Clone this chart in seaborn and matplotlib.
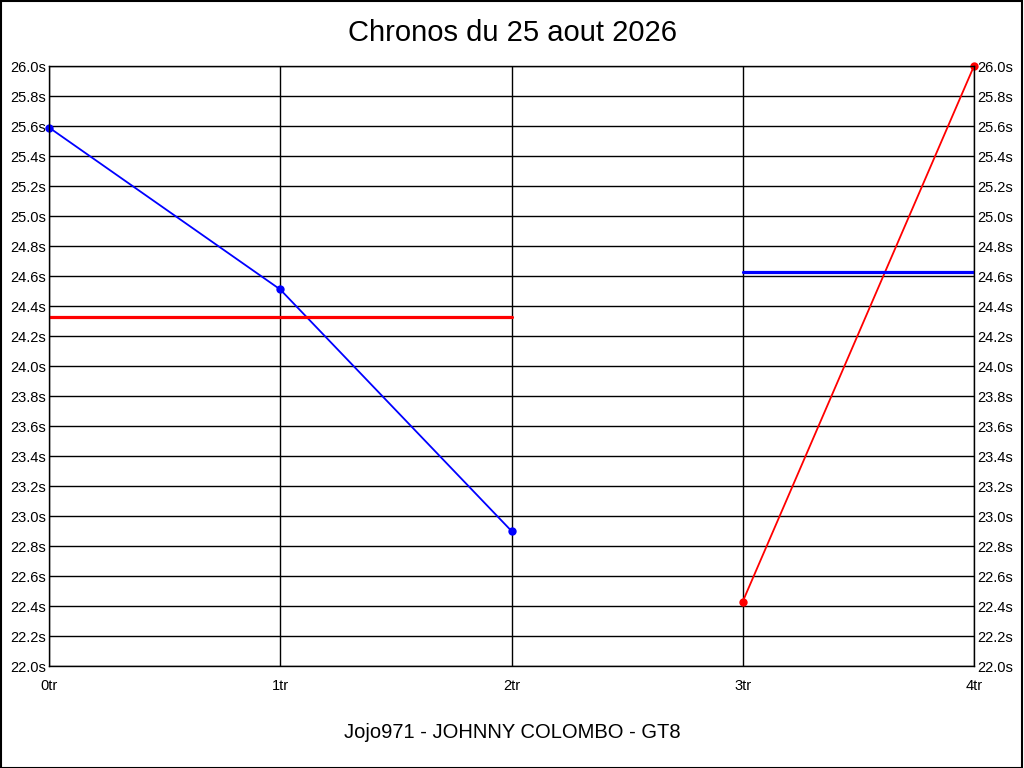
import numpy as np
import pandas as pd
import matplotlib
matplotlib.use("Agg")
import matplotlib.pyplot as plt
import seaborn as sns

# Tours (x) and chrono values (seconds)
tours = [0, 1, 2, 3, 4]
tour_labels = ["0tr", "1tr", "2tr", "3tr", "4tr"]
blue_x = [0, 1, 2]
blue_y = [25.59, 24.51, 22.90]
red_x = [3, 4]
red_y = [22.43, 26.00]
# reference levels (horizontal lines)
red_level_x = [0, 2]
red_level_y = [24.33, 24.33]
blue_level_x = [3, 4]
blue_level_y = [24.63, 24.63]
y_ticks = np.round(np.arange(22.0, 26.01, 0.2), 1)

sns.set_style("white")
plt.rcParams['font.family'] = ['Liberation Sans', 'DejaVu Sans']

fig = plt.figure(figsize=(10.24, 7.68), dpi=100)
ax = fig.add_axes([49 / 1024, 102 / 768, 925 / 1024, 600 / 768])

ax.set_xlim(0, 4)
ax.set_ylim(22.0, 26.0)
ax.set_xticks(tours)
ax.set_xticklabels(tour_labels)
ax.set_yticks(y_ticks)
ax.set_yticklabels([f"{v:.1f}s" for v in y_ticks])
ax.grid(True, color="black", linewidth=1)
ax.set_axisbelow(True)
for s in ax.spines.values():
    s.set_color("black")
    s.set_linewidth(1)
ax.tick_params(axis="y", length=0, labelsize=10.5, colors="black", pad=2)
ax.tick_params(axis="x", length=0, labelsize=10.5, colors="black", pad=9)

sns.lineplot(x=blue_x, y=blue_y, ax=ax, color="#0000ff", linewidth=1.3,
             marker="o", markersize=6, markeredgewidth=0, clip_on=False)
sns.lineplot(x=red_x, y=red_y, ax=ax, color="#ff0000", linewidth=1.3,
             marker="o", markersize=6, markeredgewidth=0, clip_on=False)
sns.lineplot(x=red_level_x, y=red_level_y, ax=ax, color="#ff0000", linewidth=2.3)
sns.lineplot(x=blue_level_x, y=blue_level_y, ax=ax, color="#0000ff", linewidth=2.3)

# right side labels
ax2 = ax.twinx()
ax2.set_ylim(ax.get_ylim())
ax2.set_yticks(y_ticks)
ax2.set_yticklabels([f"{v:.1f}s" for v in y_ticks])
ax2.tick_params(length=0, labelsize=10.5, colors="black", pad=2)
for s in ax2.spines.values():
    s.set_visible(False)

ax.set_xlabel("")
ax.set_ylabel("")

fig.text(0.5, 1 - 33 / 768, "Chronos du 25 aout 2026", ha="center", va="center",
         fontsize=21, color="black")
fig.text(0.5, 1 - 733 / 768, "Jojo971 - JOHNNY COLOMBO - GT8", ha="center",
         va="center", fontsize=14.5, color="black")

# frame around the whole picture
fig.patches.append(plt.Rectangle((0.0005, 0.0005), 0.998, 0.998, transform=fig.transFigure,
                                 fill=False, edgecolor="black", linewidth=1.5))

fig.savefig("out.png", dpi=100)
